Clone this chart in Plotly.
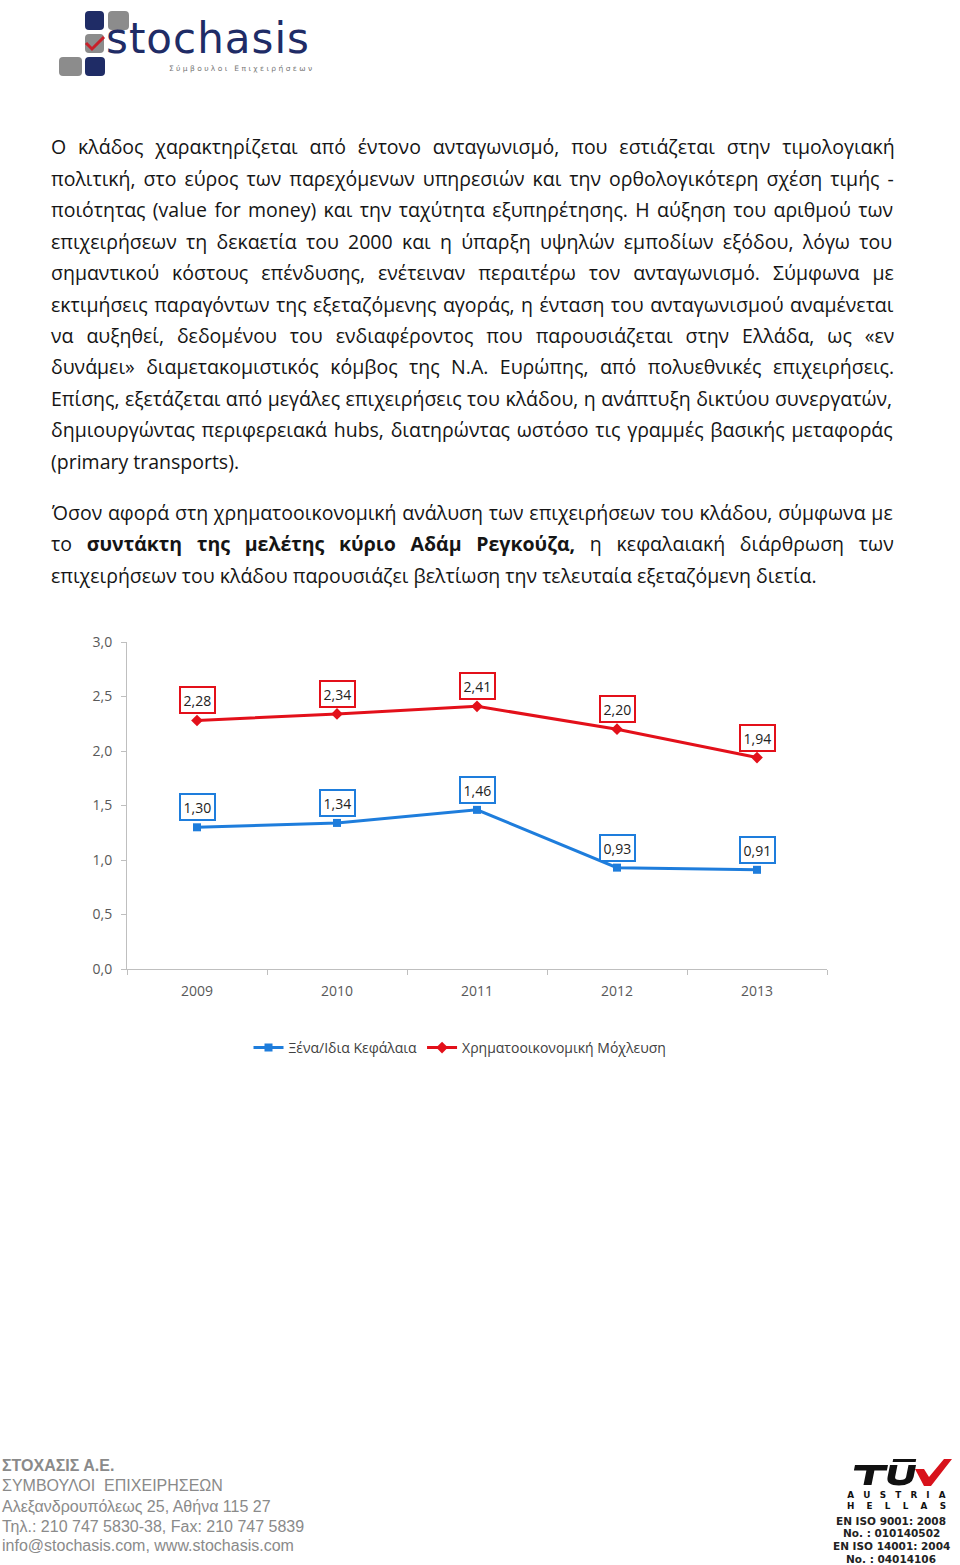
import plotly.graph_objects as go

W, H = 960, 1565

# ---------------- data ----------------
years = ["2009", "2010", "2011", "2012", "2013"]
debt_equity = [1.30, 1.34, 1.46, 0.93, 0.91]          # Ξένα/Ιδια Κεφάλαια
fin_leverage = [2.28, 2.34, 2.41, 2.20, 1.94]         # Χρηματοοικονομική Μόχλευση
series_names = ["Ξένα/Ιδια Κεφάλαια", "Χρηματοοικονομική Μόχλευση"]
y_ticks = [0.0, 0.5, 1.0, 1.5, 2.0, 2.5, 3.0]

para1 = [
    "Ο κλάδος χαρακτηρίζεται από έντονο ανταγωνισμό, που εστιάζεται στην τιμολογιακή",
    "πολιτική, στο εύρος των παρεχόμενων υπηρεσιών και την ορθολογικότερη σχέση τιμής -",
    "ποιότητας (value for money) και την ταχύτητα εξυπηρέτησης. Η αύξηση του αριθμού των",
    "επιχειρήσεων τη δεκαετία του 2000 και η ύπαρξη υψηλών εμποδίων εξόδου, λόγω του",
    "σημαντικού κόστους επένδυσης, ενέτειναν περαιτέρω τον ανταγωνισμό. Σύμφωνα με",
    "εκτιμήσεις παραγόντων της εξεταζόμενης αγοράς, η ένταση του ανταγωνισμού αναμένεται",
    "να αυξηθεί, δεδομένου του ενδιαφέροντος που παρουσιάζεται στην Ελλάδα, ως «εν",
    "δυνάμει» διαμετακομιστικός κόμβος της Ν.Α. Ευρώπης, από πολυεθνικές επιχειρήσεις.",
    "Επίσης, εξετάζεται από μεγάλες επιχειρήσεις του κλάδου, η ανάπτυξη δικτύου συνεργατών,",
    "δημιουργώντας περιφερειακά hubs, διατηρώντας ωστόσο τις γραμμές βασικής μεταφοράς",
    "(primary transports).",
]
para2 = [
    "Όσον αφορά στη χρηματοοικονομική ανάλυση των επιχειρήσεων του κλάδου, σύμφωνα με",
    "το <b>συντάκτη της μελέτης κύριο Αδάμ Ρεγκούζα,</b> η κεφαλαιακή διάρθρωση των",
    "επιχειρήσεων του κλάδου παρουσιάζει βελτίωση την τελευταία εξεταζόμενη διετία.",
]
# extra word spacing (px) used to justify each line like the source page
para1_ws = [6.8, 2.9, 2.3, 4.2, 7.9, 1.4, 7.9, 6.4, 0.4, 1.7, 0]
para2_ws = [0.7, 9.7, 0]

footer_left = [
    "<b>ΣΤΟΧΑΣΙΣ Α.Ε.</b>",
    "ΣΥΜΒΟΥΛΟΙ  ΕΠΙΧΕΙΡΗΣΕΩΝ",
    "Αλεξανδρουπόλεως 25, Αθήνα 115 27",
    "Τηλ.: 210 747 5830-38, Fax: 210 747 5839",
    "info@stochasis.com, www.stochasis.com",
]
footer_right = ["EN ISO 9001: 2008", "No. : 010140502", "EN ISO 14001: 2004", "No. : 04014106"]

BLUE = "#1E7DDC"
RED = "#E3101A"
NAVY = "#1F2C66"
GREY = "#8C8C8C"
FONT = "Open Sans"


def px(x):
    return x / W


def py(y):
    return 1 - y / H


def fmt(v):
    return f"{v:.2f}".replace(".", ",")


fig = go.Figure()
fig.add_trace(go.Scatter(x=years, y=debt_equity, name=series_names[0], mode="lines+markers",
                         line=dict(color=BLUE, width=3),
                         marker=dict(symbol="square", size=8, color=BLUE)))
fig.add_trace(go.Scatter(x=years, y=fin_leverage, name=series_names[1], mode="lines+markers",
                         line=dict(color=RED, width=3),
                         marker=dict(symbol="diamond", size=9, color=RED)))

ann = []
# data labels (category index used as x position)
for ys, col in ((debt_equity, BLUE), (fin_leverage, RED)):
    for i, v in enumerate(ys):
        ann.append(dict(x=i, y=v, xref="x", yref="y", text=fmt(v), showarrow=False,
                        yshift=20, bgcolor="white", bordercolor=col, borderwidth=2,
                        borderpad=2.5, font=dict(family=FONT, size=14, color="#222")))


def body_line(line, y, ws):
    txt = f"<span style='word-spacing:{ws}px'>{line}</span>" if ws else line
    return dict(x=px(49), y=py(y), xref="paper", yref="paper", xanchor="left",
                yanchor="middle", text=txt, showarrow=False,
                font=dict(family=FONT, size=19.5, color="#151515"))


for i, (line, ws) in enumerate(zip(para1, para1_ws)):
    ann.append(body_line(line, 147 + i * 31.4, ws))
for i, (line, ws) in enumerate(zip(para2, para2_ws)):
    ann.append(body_line(line, 512 + i * 31.5, ws))

# footer left
fl_y = [1465, 1485, 1507, 1526, 1545]
for t, y in zip(footer_left, fl_y):
    ann.append(dict(x=0, y=py(y), xref="paper", yref="paper", xanchor="left", yanchor="middle",
                    text=t, showarrow=False,
                    font=dict(family="Liberation Sans", size=16, color="#8a8a8a")))

# footer right (TUV) text
ann.append(dict(x=px(896), y=py(1500), xref="paper", yref="paper", xanchor="center",
                yanchor="middle",
                text="<b>A   U   S   T   R   I   A<br>H    E    L    L    A    S</b>",
                showarrow=False, font=dict(family="DejaVu Sans", size=8.8, color="#111")))
for t, y in zip(footer_right, [1521, 1533, 1546, 1559]):
    ann.append(dict(x=px(891), y=py(y), xref="paper", yref="paper", xanchor="center",
                    yanchor="middle", text=f"<b>{t}</b>", showarrow=False,
                    font=dict(family="DejaVu Sans", size=10.5, color="#222")))

# logo text
ann.append(dict(x=px(104), y=py(39), xref="paper", yref="paper", xanchor="left",
                yanchor="middle", text="<span style='letter-spacing:1px'>stochasis</span>",
                showarrow=False, font=dict(family="DejaVu Sans", size=42, color=NAVY)))
ann.append(dict(x=px(314), y=py(68), xref="paper", yref="paper", xanchor="right",
                yanchor="middle", text="Σ ύ μ β ο υ λ ο ι   Ε π ι χ ε ι ρ ή σ ε ω ν",
                showarrow=False, font=dict(family="DejaVu Sans", size=7.5, color="#777")))


def P(x, y):
    return f"{px(x):.5f},{py(y):.5f}"


def rrect(x0, y0, x1, y1, r=4):
    return (f"M {P(x0+r, y0)} L {P(x1-r, y0)} Q {P(x1, y0)} {P(x1, y0+r)} L {P(x1, y1-r)} "
            f"Q {P(x1, y1)} {P(x1-r, y1)} L {P(x0+r, y1)} Q {P(x0, y1)} {P(x0, y1-r)} "
            f"L {P(x0, y0+r)} Q {P(x0, y0)} {P(x0+r, y0)} Z")


def slanted(cmds, base=1485, s=0.2):
    """cmds: list of (letter, [(x, y), ...]) in page pixels, italic slant applied.
    Every command is written explicitly (no implicit repeats)."""
    out = []
    for c, pts in cmds:
        sp = [P(x + s * (base - y), y) for x, y in pts]
        if c in ("M", "L"):
            for q in sp:
                out.append(f"{c} {q}")
                if c == "M":
                    c = "L"
        elif c == "Q":
            for k in range(0, len(sp), 2):
                out.append(f"Q {sp[k]} {sp[k + 1]}")
    return " ".join(out) + " Z"


shapes = []
for (x0, y0, x1, y1, c) in [(85, 11, 104, 30, NAVY), (108, 11, 129, 30, GREY),
                            (85, 34, 104, 53, GREY), (59, 57, 82, 76, GREY),
                            (85, 57, 105, 76, NAVY)]:
    shapes.append(dict(type="path", path=rrect(x0, y0, x1, y1), xref="paper", yref="paper",
                       fillcolor=c, line=dict(width=0)))
shapes.append(dict(type="path", path=f"M {P(86, 43)} L {P(92, 49)} L {P(104, 37)}",
                   xref="paper", yref="paper", line=dict(color="#C8202A", width=3)))

# TUV letters drawn as glyph shapes
T_path = slanted([("M", [(851, 1465)]), ("L", [(884, 1465), (884, 1470.5), (871.5, 1470.5),
                                              (871.5, 1485), (863.5, 1485), (863.5, 1470.5),
                                              (851, 1470.5)])])
U_path = slanted([("M", [(886, 1465)]), ("L", [(893.5, 1465), (893.5, 1477)]),
                  ("Q", [(893.5, 1480), (899, 1480)]), ("Q", [(904.5, 1480), (904.5, 1477)]),
                  ("L", [(904.5, 1465), (912, 1465), (912, 1477)]),
                  ("Q", [(912, 1485.5), (899, 1485.5)]), ("Q", [(886, 1485.5), (886, 1477)])])
M_path = slanted([("M", [(888, 1459)]), ("L", [(911, 1459), (911, 1462), (888, 1462)])])
for pth in (T_path, U_path, M_path):
    shapes.append(dict(type="path", path=pth, xref="paper", yref="paper",
                       fillcolor="#111", line=dict(width=0)))
# TUV red check (the "V")
shapes.append(dict(type="path",
                   path=(f"M {P(915, 1469)} L {P(924, 1469)} L {P(929, 1477)} L {P(944, 1459)} "
                         f"L {P(952, 1459)} L {P(931, 1486)} L {P(924, 1486)} Z"),
                   xref="paper", yref="paper", fillcolor="#D8121B", line=dict(width=0)))

fig.update_layout(
    width=W, height=H, margin=dict(l=0, r=0, t=0, b=0, pad=0), autosize=False,
    paper_bgcolor="white", plot_bgcolor="white",
    separators=",.",
    showlegend=True,
    legend=dict(orientation="h", x=px(460), y=py(1048), xanchor="center", yanchor="middle",
                font=dict(family=FONT, size=14, color="#404040"), itemwidth=30,
                bgcolor="rgba(0,0,0,0)"),
    xaxis=dict(domain=[px(127), px(827)], range=[-0.5, 4.5], type="category",
               showline=True, linecolor="#BFBFBF", linewidth=1, ticks="outside",
               tickson="boundaries", ticklen=5, tickcolor="#BFBFBF", showgrid=False,
               ticklabelstandoff=9,
               tickfont=dict(family=FONT, size=14, color="#595959"), automargin=False),
    yaxis=dict(domain=[py(969), py(642)], range=[0, 3], tickvals=y_ticks, tickformat=".1f",
               showline=True, linecolor="#BFBFBF", linewidth=1, ticks="outside", ticklen=5,
               tickcolor="#BFBFBF", showgrid=False, zeroline=False, ticklabelstandoff=6,
               tickfont=dict(family=FONT, size=14, color="#595959"), automargin=False),
    annotations=ann, shapes=shapes,
)

fig.write_html("out.html", config={"displayModeBar": False},
               post_script="document.body.style.margin='0';")
